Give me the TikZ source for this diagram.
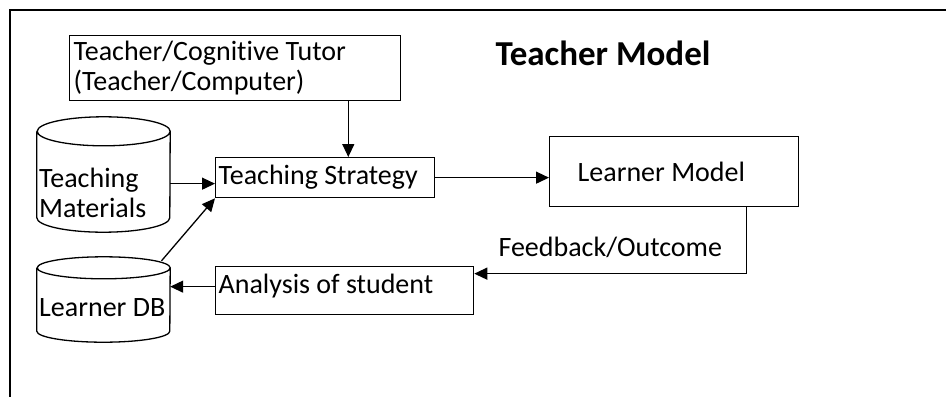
\documentclass[tikz,border=0pt]{standalone}
\usepackage{fontspec}
\setmainfont{Carlito}[Ligatures=NoCommon]
\usepackage{tikz}
\usetikzlibrary{arrows.meta}
\usetikzlibrary{positioning}

\tikzset{
  box/.style={draw, rectangle, anchor=north west, align=left, line width=1.3pt,
    execute at begin node={\spaceskip=0pt\xspaceskip=0pt}},
  db/.style={rectangle, minimum width=133pt, inner sep=0pt},
  dbtext/.style={anchor=west, align=left, inner sep=0pt},
  arr/.style={-{Triangle[length=13pt,width=12pt]}, line width=1.3pt},
}
% cylinder outline round a db node: name, ellipse y radius
\newcommand{\drawdb}[2]{%
  \draw[line width=1.3pt] ([yshift=-#2]#1.north west) -- ([yshift=#2]#1.south west)
    arc[start angle=180, end angle=360, x radius=66.5pt, y radius=#2]
    -- ([yshift=-#2]#1.north east)
    arc[start angle=0, end angle=360, x radius=66.5pt, y radius=#2];}

\begin{document}
\begin{tikzpicture}[x=1pt, y=-1pt, font=\fontsize{28}{29.5}\selectfont]
    \useasboundingbox (0,0) rectangle (946,397);
    \draw[line width=2pt] (946,10) -- (10,10) -- (10,397);

    \node[box, minimum width=331pt, minimum height=65pt, text width=323pt, inner xsep=4pt] (tutor) at (69,35)
      {Teacher/Cognitive Tutor\\(Teacher/Computer)};
    \node[font=\bfseries\fontsize{35}{40}\selectfont] (title) at (603,53) {Teacher Model};

    \node[box, minimum width=219pt, minimum height=40pt, text width=213pt, inner xsep=3pt] (strategy) at (215,157)
      {Teaching Strategy};
    \node[box, minimum width=249pt, minimum height=70pt, text width=193pt, inner xsep=28pt] (learner) at (549,136)
      {Learner Model};
    \node[box, minimum width=258pt, minimum height=48pt, text width=252pt, inner xsep=3pt, text depth=14pt] (analysis) at (215,266)
      {Analysis of student};

    \node[db, minimum height=115pt] (materials) at (103.5,174.5) {};
    \drawdb{materials}{14.5pt}
    \node[dbtext] (matText) at (39,193) {Teaching\\Materials};
    \node[db, minimum height=85pt] (learnerdb) at (103.5,299.5) {};
    \drawdb{learnerdb}{11pt}
    \node[dbtext] (dbText) at (39,308) {Learner DB};

    \draw[arr] ([xshift=-53pt]tutor.south east) -- ([xshift=-87pt]strategy.north east);
    \draw[arr] ([yshift=-6pt]strategy.west -| materials.east) -- ([yshift=-6pt]strategy.west);
    \draw[arr] ([xshift=58pt,yshift=-4pt]learnerdb.north) -- (strategy.south west);
    \draw[arr] (strategy.east) -- (strategy.east -| learner.west);
    \draw[arr] ([xshift=-53pt]learner.south east) |- ([yshift=17pt]analysis.east)
      node[pos=0.75, above=12pt] (feedback) {Feedback/Outcome};
    \draw[arr] ([yshift=4pt]analysis.west) -- ([yshift=4pt]analysis.west -| learnerdb.east);
  \end{tikzpicture}
\end{document}
